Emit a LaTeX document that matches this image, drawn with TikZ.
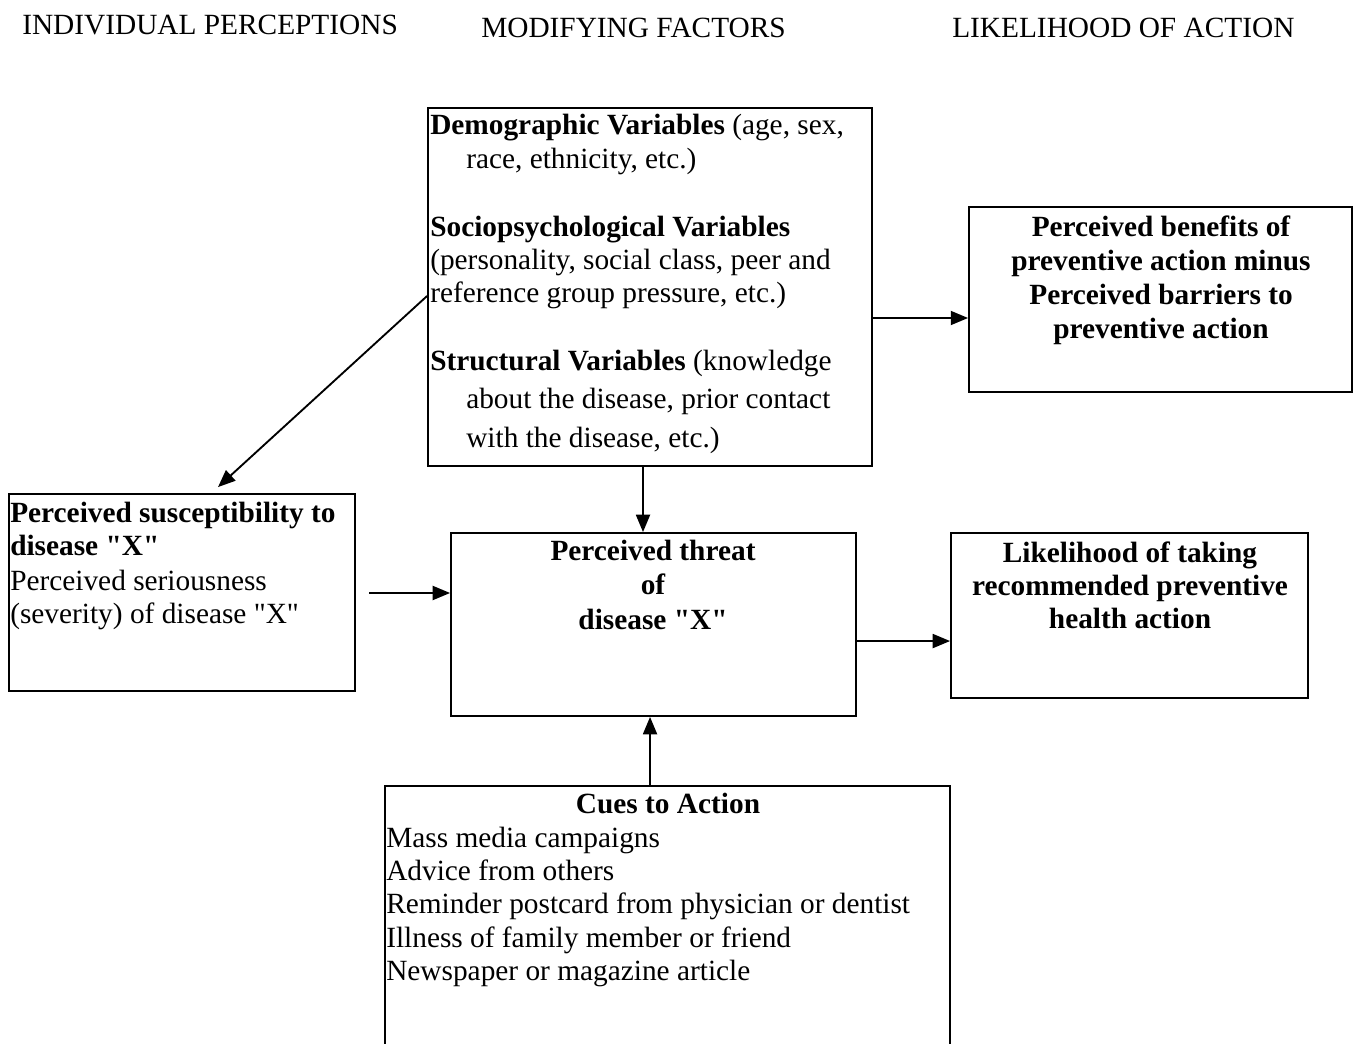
\documentclass[tikz,border=0pt]{standalone}
\usepackage{fontspec}
\newfontfamily\tnr{Liberation Serif}
\usetikzlibrary{arrows.meta,fit,calc}
\begin{document}
\begin{tikzpicture}[x=0.75pt,y=-0.75pt,
  box/.style={draw,line width=1.4pt,inner sep=0pt},
  txt/.style={inner sep=0pt,anchor=base west,font=\tnr\fontsize{22}{26}\selectfont},
  ctxt/.style={inner sep=0pt,anchor=base,font=\tnr\fontsize{22}{26}\selectfont\bfseries},
  arr/.style={line width=1.4pt,-{Triangle[length=13pt,width=10.5pt]}}]
\clip (0,0) rectangle (1358,1044);
\fill[white] (0,0) rectangle (1358,1044);
% titles
\node[txt] (t1) at (22,35) {INDIVIDUAL PERCEPTIONS};
\node[txt] (t2) at (481,38) {MODIFYING FACTORS};
\node[txt] (t3) at (952,38) {LIKELIHOOD OF ACTION};
% boxes
\node[box,fit={(428,108) (872,466)}] (mod) {};
\node[box,fit={(969,207) (1352,392)}] (ben) {};
\node[box,fit={(9,494) (355,691)}] (sus) {};
\node[box,fit={(451,533) (856,716)}] (thr) {};
\node[box,fit={(951,533) (1308,698)}] (lik) {};
\node[box,fit={(385,786) (950,1070)}] (cue) {};
% modifying factors text
\node[txt] (m1) at (430,135) {\textbf{Demographic Variables} (age, sex,};
\node[txt] (m2) at (466,169) {race, ethnicity, etc.)};
\node[txt] (m3) at (430,237) {\textbf{Sociopsychological Variables}};
\node[txt] (m4) at (430,270) {(personality, social class, peer and};
\node[txt] (m5) at (430,303) {reference group pressure, etc.)};
\node[txt] (m6) at (430,371) {\textbf{Structural Variables} (knowledge};
\node[txt] (m7) at (466,408) {about the disease, prior contact};
\node[txt] (m8) at (466,447) {with the disease, etc.)};
% benefits
\node[ctxt] (b1) at (1161,237) {Perceived benefits of};
\node[ctxt] (b2) at (1161,271) {preventive action minus};
\node[ctxt] (b3) at (1161,305) {Perceived barriers to};
\node[ctxt] (b4) at (1161,339) {preventive action};
% susceptibility
\node[txt] (s1) at (10,522) {\textbf{Perceived susceptibility to}};
\node[txt] (s2) at (10,555) {\textbf{disease "X"}};
\node[txt] (s3) at (10,590) {Perceived seriousness};
\node[txt] (s4) at (10,623) {(severity) of disease "X"};
% threat
\node[ctxt] (h1) at (653,560) {Perceived threat};
\node[ctxt] (h2) at (653,594) {of};
\node[ctxt] (h3) at (653,629) {disease "X"};
% likelihood
\node[ctxt] (l1) at (1130,562) {Likelihood of taking};
\node[ctxt] (l2) at (1130,595) {recommended preventive};
\node[ctxt] (l3) at (1130,628) {health action};
% cues
\node[ctxt] (c0) at (668,813) {Cues to Action};
\node[txt] (c1) at (386,847) {Mass media campaigns};
\node[txt] (c2) at (386,880) {Advice from others};
\node[txt] (c3) at (386,913) {Reminder postcard from physician or dentist};
\node[txt] (c4) at (386,947) {Illness of family member or friend};
\node[txt] (c5) at (386,980) {Newspaper or magazine article};
% connectors
\coordinate (sa) at (369,593);
\draw[arr] ([yshift=-6.75pt]mod.west) -- ([xshift=27pt,yshift=4.5pt]sus.north);
\draw[arr] ([xshift=-5.25pt]mod.south) -- ([xshift=-5.25pt]mod.south |- thr.north);
\draw[arr] ([yshift=-23.25pt]mod.east) -- ([yshift=-23.25pt]mod.east -| ben.west);
\draw[arr] (sa) -- (sa -| thr.west);
\draw[arr] ([yshift=-12.4pt]thr.east) -- ([yshift=-12.4pt]thr.east -| lik.west);
\draw[arr] ([xshift=-13.1pt]cue.north) -- ([xshift=-13.1pt]cue.north |- thr.south);
\end{tikzpicture}
\end{document}
